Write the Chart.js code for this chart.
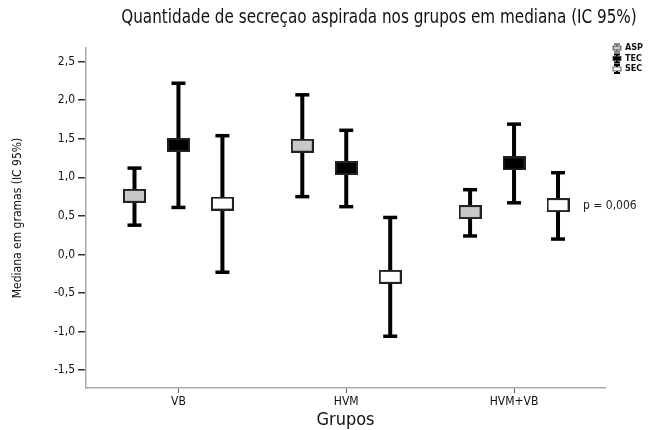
<!DOCTYPE html>
<html>
<head>
<meta charset="utf-8">
<script src="https://cdn.jsdelivr.net/npm/chart.js@4.4.1/dist/chart.umd.min.js"></script>
<style>
  html, body { margin: 0; padding: 0; background: #fff; }
  #wrap { width: 663px; height: 430px; }
</style>
</head>
<body>
<div id="wrap"><canvas id="chart" width="663" height="430"></canvas></div>
<script>
// data
const categories = ['VB', 'HVM', 'HVM+VB'];
const seriesNames = ['ASP', 'TEC', 'SEC'];
const aspMedian = [0.76, 1.41, 0.55];
const aspLow = [0.38, 0.75, 0.24];
const aspHigh = [1.12, 2.07, 0.84];
const tecMedian = [1.42, 1.12, 1.18];
const tecLow = [0.61, 0.62, 0.67];
const tecHigh = [2.22, 1.61, 1.69];
const secMedian = [0.66, -0.29, 0.64];
const secLow = [-0.23, -1.06, 0.20];
const secHigh = [1.54, 0.48, 1.06];
const yTicks = [-1.5, -1.0, -0.5, 0.0, 0.5, 1.0, 1.5, 2.0, 2.5];
const pValue = 'p = 0,006';

const FONT = "'Liberation Sans Narrow', 'DejaVu Sans Condensed', 'Roboto Condensed', sans-serif";
const offsets = [-0.262, 0, 0.262];
const fills = ['#c8c8c8', '#000000', '#ffffff'];

// box marker drawn as an image
function makeBox(fill) {
  const c = document.createElement('canvas');
  c.width = 23; c.height = 14;
  const g = c.getContext('2d');
  g.fillStyle = fill;
  g.fillRect(0, 0, 23, 14);
  g.strokeStyle = '#222';
  g.lineWidth = 2;
  g.strokeRect(1, 1, 21, 12);
  return c;
}

const groups = [
  { med: aspMedian, low: aspLow, high: aspHigh },
  { med: tecMedian, low: tecLow, high: tecHigh },
  { med: secMedian, low: secLow, high: secHigh }
];

const datasets = [];
groups.forEach((s, i) => {
  const whisk = [];
  const caps = [];
  const mids = [];
  categories.forEach((c, j) => {
    const x = j + offsets[i];
    whisk.push({ x, y: s.low[j] }, { x, y: s.high[j] }, { x, y: null });
    caps.push({ x, y: s.low[j] }, { x, y: s.high[j] });
    mids.push({ x, y: s.med[j] });
  });
  datasets.push({
    label: seriesNames[i] + ' ic', type: 'line', data: whisk, showLine: true, spanGaps: false,
    borderColor: '#000', borderWidth: 4, pointRadius: 0, order: 3
  });
  datasets.push({
    label: seriesNames[i] + ' cap', data: caps, pointStyle: 'line', pointRadius: 7,
    borderColor: '#000', borderWidth: 3.5, pointHoverRadius: 7, order: 2
  });
  datasets.push({
    label: seriesNames[i], data: mids, pointStyle: makeBox(fills[i]), order: 1
  });
});

const extras = {
  id: 'extras',
  afterDraw(chart) {
    const ctx = chart.ctx;
    ctx.save();
    // title, squeezed to match the narrow face of the original
    ctx.fillStyle = '#111';
    ctx.textAlign = 'center';
    ctx.textBaseline = 'middle';
    ctx.font = '19px ' + FONT;
    ctx.save();
    ctx.translate(379, 18);
    ctx.scale(0.89, 1);
    ctx.fillText('Quantidade de secreçao aspirada nos grupos em mediana (IC 95%)', 0, 0);
    ctx.restore();

    // p value beside the last group
    const xs = chart.scales.x, ys = chart.scales.y;
    ctx.font = '12px ' + FONT;
    ctx.textAlign = 'left';
    ctx.fillStyle = '#222';
    ctx.fillText(pValue, xs.getPixelForValue(2 + offsets[2]) + 25, ys.getPixelForValue(secMedian[2]) + 1);

    // legend
    ctx.font = 'bold 9px ' + FONT;
    seriesNames.forEach((n, i) => {
      const cx = 617, cy = 48 + i * 10.5;
      ctx.strokeStyle = i === 0 ? '#888' : '#000';
      ctx.lineWidth = 2;
      ctx.beginPath();
      ctx.moveTo(cx, cy - 4); ctx.lineTo(cx, cy + 4);
      ctx.moveTo(cx - 3, cy - 4); ctx.lineTo(cx + 3, cy - 4);
      ctx.moveTo(cx - 3, cy + 4); ctx.lineTo(cx + 3, cy + 4);
      ctx.stroke();
      ctx.fillStyle = fills[i];
      ctx.fillRect(cx - 4, cy - 2, 8, 4);
      ctx.strokeStyle = '#333';
      ctx.lineWidth = 0.8;
      ctx.strokeRect(cx - 4, cy - 2, 8, 4);
      ctx.fillStyle = '#111';
      ctx.fillText(n, 625, cy);
    });
    ctx.restore();
  }
};

new Chart(document.getElementById('chart'), {
  type: 'scatter',
  data: { datasets },
  plugins: [extras],
  options: {
    responsive: false,
    animation: false,
    layout: { padding: { top: 48, right: 58, left: 0, bottom: 0 } },
    plugins: { legend: { display: false }, tooltip: { enabled: false } },
    scales: {
      x: {
        type: 'linear',
        min: -0.551,
        max: 2.542,
        afterFit: s => { s.height = 42; },
        afterBuildTicks: s => { s.ticks = categories.map((c, j) => ({ value: j })); },
        ticks: {
          callback: v => categories[v],
          font: { family: FONT, size: 12 },
          color: '#111',
          padding: 2,
          maxRotation: 0
        },
        grid: { drawOnChartArea: false, drawTicks: true, tickLength: 5, color: '#555' },
        border: { color: '#aaa', width: 1.5 },
        title: { display: true, text: 'Grupos', font: { family: FONT, size: 18 }, color: '#111', padding: { top: 0, bottom: -1 } }
      },
      y: {
        min: -1.731,
        max: 2.677,
        afterFit: s => { s.width = 86; },
        afterBuildTicks: s => { s.ticks = yTicks.map(v => ({ value: v })); },
        ticks: {
          callback: v => v.toFixed(1).replace('.', ','),
          font: { family: FONT, size: 12 },
          color: '#111',
          padding: 3
        },
        grid: { drawOnChartArea: false, drawTicks: true, tickLength: 8, color: '#333', lineWidth: 1.5 },
        border: { color: '#aaa', width: 1.5 },
        title: { display: true, text: 'Mediana em gramas (IC 95%)', font: { family: FONT, size: 12 }, color: '#111', padding: { top: 11 } }
      }
    }
  }
});
</script>
</body>
</html>
